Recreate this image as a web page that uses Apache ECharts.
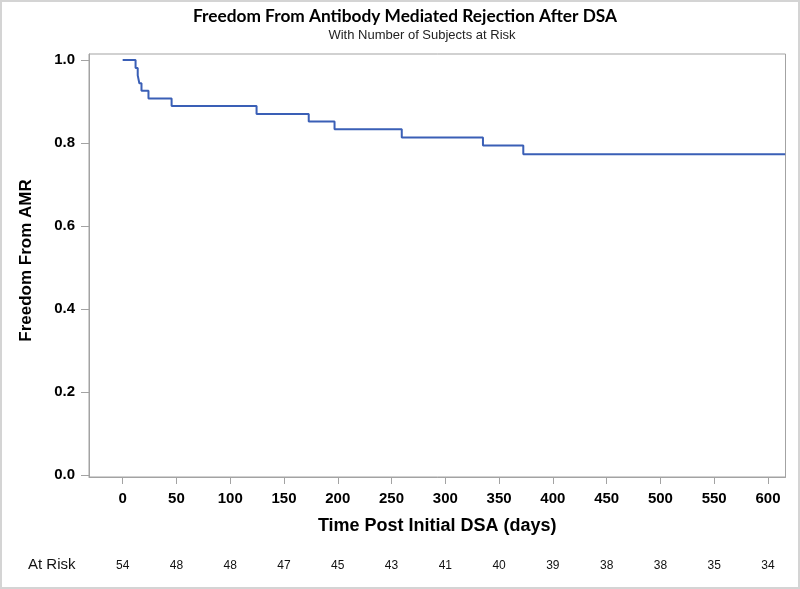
<!DOCTYPE html>
<html>
<head>
<meta charset="utf-8">
<script src="https://cdn.jsdelivr.net/npm/echarts@6/dist/echarts.min.js"></script>
<style>
html,body{margin:0;padding:0;background:#fff;}
#chart{width:800px;height:589px;}
</style>
</head>
<body>
<div id="chart"></div>
<script>
// Kaplan-Meier step data (time in days, survival probability)
const eventTimes = [0, 12, 14, 15.5, 17.5, 24, 45.5, 124.5, 173, 197, 259.5, 335, 372.5, 616];
const freedom = [1.0, 0.981, 0.963, 0.944, 0.926, 0.907, 0.889, 0.870, 0.852, 0.833, 0.813, 0.794, 0.773, 0.773];
const xTicks = [0, 50, 100, 150, 200, 250, 300, 350, 400, 450, 500, 550, 600];
const atRisk = [54, 48, 48, 47, 45, 43, 41, 40, 39, 38, 38, 35, 34];
const yTicks = [0, 0.2, 0.4, 0.6, 0.8, 1.0];

const chart = echarts.init(document.getElementById('chart'));
const gray = '#a3a3a3';
const labelFont = '"Liberation Sans", Arial, sans-serif';

const option = {
  backgroundColor: '#fff',
  animation: false,
  title: [
    {
      text: 'Freedom From Antibody Mediated Rejection After DSA',
      left: 400, top: 3, textAlign: 'center',
      textStyle: { fontFamily: 'Lato, sans-serif', fontWeight: 'bold', fontSize: 17.3, color: '#000' }
    },
    {
      text: 'With Number of Subjects at Risk',
      left: 417, top: 24, textAlign: 'center',
      textStyle: { fontFamily: labelFont, fontWeight: 'normal', fontSize: 13, color: '#222' }
    }
  ],
  graphic: [
    { type: 'rect', shape: { x: 1, y: 1, width: 798, height: 587 }, style: { fill: 'none', stroke: '#d4d4d4', lineWidth: 2 }, silent: true },
    { type: 'text', left: 28, top: 557, style: { text: 'At Risk', fontFamily: labelFont, fontSize: 15, fill: '#111' } }
  ],
  grid: {
    left: 89, right: 14.5, top: 54, bottom: 112,
    show: true, borderColor: gray, borderWidth: 1,
    containLabel: false, outerBoundsMode: 'none'
  },
  xAxis: [
    {
      type: 'value', min: -31.3, max: 616.3,
      name: 'Time Post Initial DSA (days)', nameLocation: 'middle', nameGap: 40,
      nameTextStyle: { fontFamily: labelFont, fontWeight: 'bold', fontSize: 18, color: '#000' },
      axisLine: { show: true, onZero: false, lineStyle: { color: gray } },
      axisTick: { show: true, length: 7, customValues: xTicks, lineStyle: { color: gray } },
      axisLabel: { customValues: xTicks, margin: 14, fontFamily: labelFont, fontWeight: 'bold', fontSize: 15, color: '#000' },
      splitLine: { show: false }
    },
    {
      type: 'value', min: -31.3, max: 616.3, position: 'bottom', offset: 75,
      axisLine: { show: false }, axisTick: { show: false }, splitLine: { show: false },
      axisLabel: {
        customValues: xTicks, margin: 8, fontFamily: labelFont, fontSize: 12, color: '#111',
        formatter: function (v) { const i = xTicks.indexOf(v); return i >= 0 ? String(atRisk[i]) : ''; }
      }
    }
  ],
  yAxis: {
    type: 'value', min: -0.0048, max: 1.0145,
    name: 'Freedom From AMR', nameLocation: 'middle', nameGap: 54,
    nameTextStyle: { fontFamily: labelFont, fontWeight: 'bold', fontSize: 17, color: '#000', padding: [0, 0, 0, 10] },
    axisLine: { show: true, onZero: false, lineStyle: { color: gray } },
    axisTick: { show: true, length: 8, customValues: yTicks, lineStyle: { color: gray } },
    axisLabel: { customValues: yTicks, margin: 14, fontFamily: labelFont, fontWeight: 'bold', fontSize: 15, color: '#000',
      formatter: function (v) { return v.toFixed(1); } },
    splitLine: { show: false }
  },
  series: [
    {
      type: 'line', step: 'end', symbol: 'none', xAxisIndex: 0,
      data: eventTimes.map((t, i) => [t, freedom[i]]),
      lineStyle: { color: '#3a5fb6', width: 2 }
    }
  ]
};
chart.setOption(option);
</script>
</body>
</html>
